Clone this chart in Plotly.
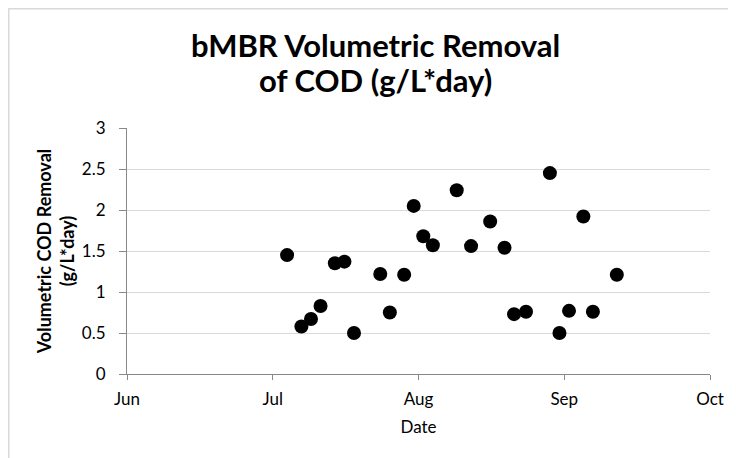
import plotly.graph_objects as go

dates = ["2012-07-04 12:00", "2012-07-07 12:00", "2012-07-09 12:00", "2012-07-11 12:00",
         "2012-07-14 12:00", "2012-07-16 12:00", "2012-07-18 12:00", "2012-07-24",
         "2012-07-26", "2012-07-29", "2012-07-31", "2012-08-02", "2012-08-04",
         "2012-08-09", "2012-08-12", "2012-08-16", "2012-08-19", "2012-08-21",
         "2012-08-23 12:00", "2012-08-28 12:00", "2012-08-30 12:00", "2012-09-01 12:00",
         "2012-09-04 12:00", "2012-09-06 12:00", "2012-09-11 12:00"]
removal = [1.45, 0.58, 0.67, 0.83, 1.35, 1.37, 0.50, 1.22, 0.75, 1.21, 2.05, 1.68, 1.57,
           2.24, 1.56, 1.86, 1.54, 0.73, 0.76, 2.45, 0.50, 0.77, 1.92, 0.76, 1.21]

x_tickvals = ["2012-06-01", "2012-07-01 12:00", "2012-08-01", "2012-08-31 12:00", "2012-10-01"]
x_ticktext = ["Jun", "Jul", "Aug", "Sep", "Oct"]
y_tickvals = [0, 0.5, 1, 1.5, 2, 2.5, 3]
y_ticktext = ["0", "0.5", "1", "1.5", "2", "2.5", "3"]
title_lines = ["bMBR Volumetric Removal", "of COD (g/L*day)"]

FONT = "Lato, Carlito, Calibri, sans-serif"
W, H = 736, 458
ML, MR, MT, MB = 119, 34, 120, 92
PW = W - ML - MR
PH = H - MT - MB


def px_x(fx):
    return (fx - ML) / PW


def px_y(fy):
    return 1 + (MT - fy) / PH


fig = go.Figure()
fig.add_trace(go.Scatter(
    x=dates, y=removal, mode="markers",
    marker=dict(color="black", size=14, line=dict(width=0)),
    showlegend=False,
))

title_centers = [37, 72]
annotations = [
    dict(text="<b>%s</b>" % t, xref="paper", yref="paper",
         x=px_x(367), y=px_y(cy), xanchor="center", yanchor="middle",
         showarrow=False, font=dict(family=FONT, size=31, color="black"))
    for t, cy in zip(title_lines, title_centers)
]

fig.update_layout(
    width=W, height=H,
    margin=dict(l=ML, r=MR, t=MT, b=MB, autoexpand=False),
    paper_bgcolor="white", plot_bgcolor="white",
    font=dict(family=FONT, size=16, color="black"),
    annotations=annotations,
    xaxis=dict(
        type="date",
        range=["2012-06-01", "2012-10-01"],
        tickmode="array", tickvals=x_tickvals, ticktext=x_ticktext,
        showgrid=False, showline=True, linecolor="#888888", linewidth=1,
        ticks="outside", ticklen=5, tickcolor="#888888",
        ticklabelstandoff=5,
        tickfont=dict(family=FONT, size=17, color="black"),
        title=dict(text="Date", standoff=12, font=dict(family=FONT, size=17, color="black")),
        zeroline=False,
    ),
    yaxis=dict(
        range=[0, 3],
        tickmode="array", tickvals=y_tickvals, ticktext=y_ticktext,
        showgrid=True, gridcolor="#d9d9d9", gridwidth=1,
        showline=True, linecolor="#888888", linewidth=1,
        ticks="outside", ticklen=7, tickcolor="#888888",
        ticklabelstandoff=10,
        tickfont=dict(family=FONT, size=17, color="black"),
        title=dict(text="<b>Volumetric COD Removal<br>(g/L*day)</b>", standoff=2,
                   font=dict(family=FONT, size=18, color="black")),
        zeroline=False,
    ),
    shapes=[dict(type="rect", xref="paper", yref="paper",
                 x0=px_x(0.75), x1=2, y0=-2, y1=px_y(0.75),
                 line=dict(color="#d9d9d9", width=1.5), fillcolor="rgba(0,0,0,0)",
                 layer="below")],
)

fig.write_html("out.html")
